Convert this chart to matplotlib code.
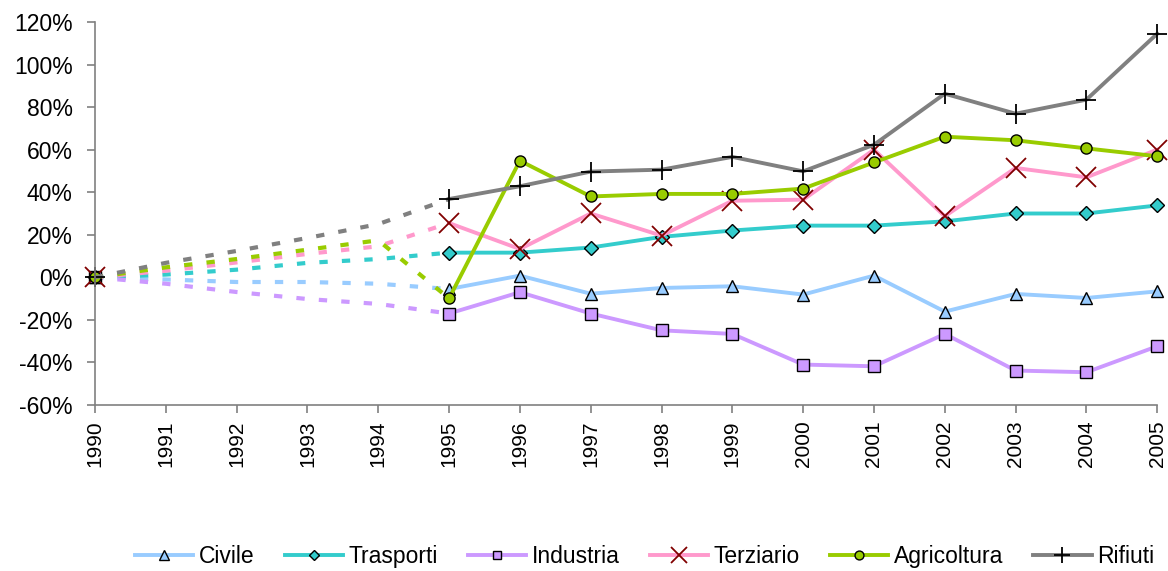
import matplotlib.pyplot as plt
from matplotlib.ticker import FuncFormatter

plt.rcParams['font.family'] = ['Liberation Sans', 'DejaVu Sans']

years = list(range(1990, 2006))

# variazione percentuale rispetto al 1990
civile = [0, -1, -2.2, -2.2, -3, -5.5, 0.8, -7.7, -5, -4.2, -8.1, 0.8, -16.1, -7.8, -9.7, -6.6]
trasporti = [0, 1.3, 3.6, 6.8, 8.6, 11.6, 11.6, 14, 19, 22, 24.3, 24.3, 26.3, 30, 30, 33.8]
industria = [0, -3, -6.9, -10.2, -12.5, -17, -7, -17, -24.9, -26.6, -41, -41.8, -26.6, -43.8, -44.6, -32.4]
terziario = [0, 3.1, 7, 11, 14.6, 25.5, 13.3, 30, 19.6, 36, 36.5, 60, 28.7, 51.4, 47, 60]
agricoltura = [0, 4.7, 8.6, 13, 17.4, -9.9, 54.8, 38, 39.2, 39.2, 41.7, 54, 66.1, 64.4, 60.6, 56.9]
rifiuti = [0, 6.8, 12.4, 18.5, 25, 36.8, 42.8, 49.7, 50.6, 56.6, 49.8, 62.3, 86.3, 76.9, 83.5, 114.5]

series = [
    ('Civile', civile, '#99CCFF', dict(marker='^', markerfacecolor='#99CCFF', markeredgecolor='black', markersize=9)),
    ('Trasporti', trasporti, '#33CCCC', dict(marker='D', markerfacecolor='#33CCCC', markeredgecolor='black', markersize=7)),
    ('Industria', industria, '#CC99FF', dict(marker='s', markerfacecolor='#CC99FF', markeredgecolor='black', markersize=8)),
    ('Terziario', terziario, '#FF99CC', dict(marker='x', markeredgecolor='#800000', markersize=14, markeredgewidth=1.3)),
    ('Agricoltura', agricoltura, '#99CC00', dict(marker='o', markerfacecolor='#99CC00', markeredgecolor='black', markersize=8)),
    ('Rifiuti', rifiuti, '#808080', dict(marker='+', markeredgecolor='black', markersize=15, markeredgewidth=1.3)),
]

fig = plt.figure(figsize=(11.68, 5.71), dpi=100)
ax = fig.add_axes([0.0813, 0.2907, 0.9095, 0.6708])

split = years.index(1995)
for name, vals, color, mk in series:
    # 1990-1995: tratteggiato, marcatore solo sul 1990
    ax.plot(years[:split + 1], vals[:split + 1], color=color, lw=3,
            linestyle=(0, (2.0, 3.4)), markevery=[0], clip_on=False, **mk)
    ax.plot(years[split:], vals[split:], color=color, lw=2.8,
            label=name, clip_on=False, **mk)

ax.set_xlim(1990, 2005)
ax.set_ylim(-60, 120)
ax.set_yticks(range(-60, 121, 20))
ax.yaxis.set_major_formatter(FuncFormatter(lambda v, p: f'{v:.0f}%'))
ax.set_xticks(years)
ax.set_xticklabels([str(y) for y in years], rotation=90)
ax.tick_params(labelsize=16.5, color='#808080', length=6, width=1.2)
ax.tick_params(axis='x', pad=5, labelsize=15)
ax.tick_params(axis='y', pad=10)

for s in ['top', 'right']:
    ax.spines[s].set_visible(False)
for s in ['left', 'bottom']:
    ax.spines[s].set_color('#808080')
    ax.spines[s].set_linewidth(1.2)

fig.legend(loc='center', bbox_to_anchor=(0.552, 0.026), ncol=6, frameon=False,
           fontsize=16.5, handlelength=2.55, handletextpad=0.25, columnspacing=1.3,
           markerscale=0.8)

fig.savefig('out.png', dpi=100)
